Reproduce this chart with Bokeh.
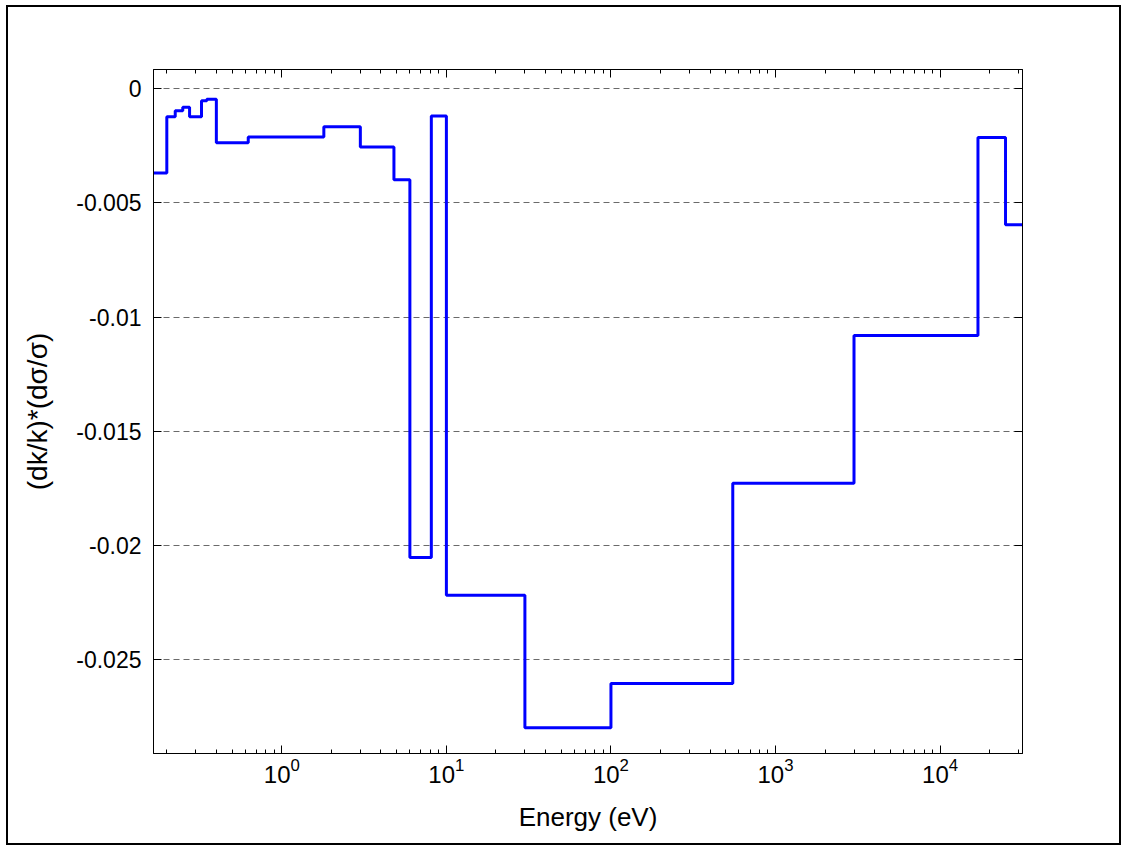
from bokeh.plotting import figure
from bokeh.models import (Range1d, LogAxis, LinearAxis, FixedTicker, LogTicker,
                          CustomJSTickFormatter)
from bokeh.embed import file_html
from bokeh.resources import INLINE

# Energy group boundaries (eV) and step values
edges = [0.165, 0.2, 0.225, 0.25, 0.275, 0.325, 0.35, 0.4, 0.625, 1.8, 3.0, 4.8,
         6.0, 8.1, 10.0, 30.0, 100.0, 550.0, 3000.0, 17000.0, 25000.0, 31700.0]
values = [-0.0037, -0.00124, -0.00098, -0.00082, -0.00124, -0.00054, -0.00047,
          -0.00238, -0.00212, -0.00168, -0.00256, -0.00399, -0.02052, -0.0012,
          -0.02217, -0.02797, -0.02604, -0.01728, -0.01081, -0.00215, -0.00596]

y_ticks = [0.0, -0.005, -0.01, -0.015, -0.02, -0.025]
y_tick_labels = ["0", "-0.005", "-0.01", "-0.015", "-0.02", "-0.025"]

FONT = "Liberation Sans"

p = figure(width=1111, height=836, x_axis_type="log",
           x_range=Range1d(0.166, 31700), y_range=Range1d(-0.0291, 0.00083),
           output_backend="svg", toolbar_location=None,
           min_border_left=145, min_border_right=97, min_border_top=62, min_border_bottom=90,
           background_fill_color="white", border_fill_color="white")

# outer figure frame drawn just outside the figure box
p.styles = {"outline": "2px solid black", "outline-offset": "0px",
            "margin-left": "8px", "margin-top": "7px"}

p.outline_line_color = "black"
p.outline_line_width = 1

ys = values + [values[-1]]
p.step(x=edges, y=ys, mode="after", line_color="#0000ff", line_width=3)

# grid
p.xgrid.visible = False
p.ygrid.ticker = FixedTicker(ticks=y_ticks)
p.ygrid.grid_line_color = "#6a6a6a"
p.ygrid.grid_line_dash = "6 4"
p.ygrid.grid_line_width = 1.2

def style_axis(ax):
    ax.axis_line_color = "black"
    ax.major_tick_line_color = "black"
    ax.minor_tick_line_color = "black"
    ax.major_tick_in = 8
    ax.major_tick_out = 0
    ax.minor_tick_in = 4
    ax.minor_tick_out = 0
    ax.major_label_text_font = FONT
    ax.major_label_text_color = "black"
    ax.axis_label_text_font = FONT
    ax.axis_label_text_font_style = "normal"
    ax.axis_label_text_color = "black"

# bottom axis
xa = p.xaxis[0]
style_axis(xa)
xa.ticker = LogTicker(num_minor_ticks=10)
xa.major_label_text_font_size = "24px"
xa.major_label_standoff = 4
xa.axis_label = "Energy (eV)"
xa.axis_label_text_font_size = "26px"
xa.axis_label_standoff = 16

# left axis
ya = p.yaxis[0]
style_axis(ya)
ya.ticker = FixedTicker(ticks=y_ticks)
ya.major_label_overrides = {t: l for t, l in zip(y_ticks, y_tick_labels)}
ya.major_label_text_font_size = "23px"
ya.major_label_standoff = 12
ya.axis_label = "(dk/k)*(dσ/σ)"
ya.axis_label_text_font_size = "28px"
ya.axis_label_standoff = 20

# top axis (ticks only)
ta = LogAxis(ticker=LogTicker(num_minor_ticks=10),
             formatter=CustomJSTickFormatter(code="return ''"))
style_axis(ta)
p.add_layout(ta, "above")

# right axis (ticks only)
ra = LinearAxis(ticker=FixedTicker(ticks=y_ticks),
                formatter=CustomJSTickFormatter(code="return ''"))
style_axis(ra)
p.add_layout(ra, "right")

open("out.html", "w").write(file_html(p, INLINE))
